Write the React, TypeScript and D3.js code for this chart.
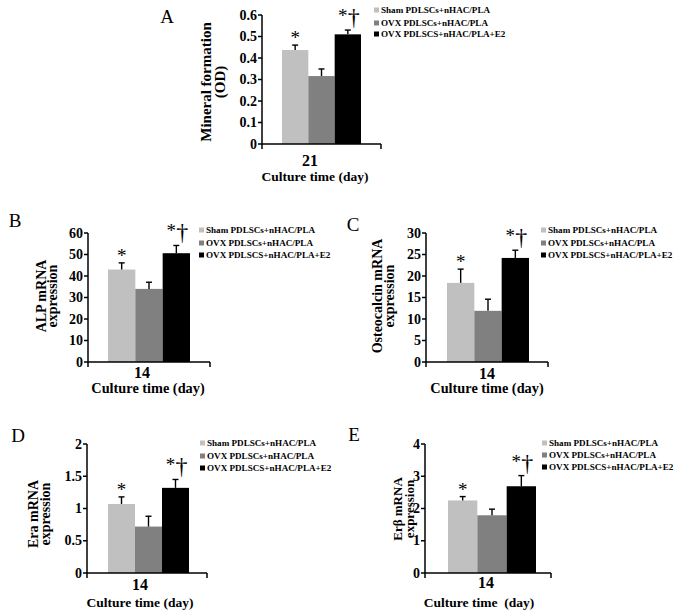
import React from "react";
import * as d3 from "d3";

// ---------- data ----------
const seriesNames = ["Sham PDLSCs+nHAC/PLA", "OVX PDLSCs+nHAC/PLA", "OVX PDLSCS+nHAC/PLA+E2"];
const seriesColors = ["#c0c0c0", "#808080", "#000000"];
const significance = ["*", "", "*†"];

const panelLetters = ["A", "B", "C", "D", "E"];
const categoryLabels = ["21", "14", "14", "14", "14"];
const xTitles = ["Culture time (day)", "Culture time (day)", "Culture time (day)", "Culture time (day)", "Culture time  (day)"];
const yTitles = [
  ["Mineral formation", "(OD)"],
  ["ALP mRNA", "expression"],
  ["Osteocalcin mRNA", "expression"],
  ["Era mRNA", "expression"],
  ["Erβ mRNA", "expression"],
];

const meanA = [0.437, 0.316, 0.51];
const errA = [0.023, 0.033, 0.02];
const meanB = [43.0, 34.0, 50.6];
const errB = [3.1, 3.1, 3.6];
const meanC = [18.4, 11.9, 24.2];
const errC = [3.2, 2.7, 1.8];
const meanD = [1.07, 0.72, 1.32];
const errD = [0.11, 0.16, 0.13];
const meanE = [2.25, 1.79, 2.69];
const errE = [0.12, 0.19, 0.33];

const ticksA = [0, 0.1, 0.2, 0.3, 0.4, 0.5, 0.6];
const ticksB = [0, 10, 20, 30, 40, 50, 60];
const ticksC = [0, 5, 10, 15, 20, 25, 30];
const ticksD = [0, 0.5, 1, 1.5, 2];
const ticksE = [0, 1, 2, 3, 4];

const means = [meanA, meanB, meanC, meanD, meanE];
const errs = [errA, errB, errC, errD, errE];
const ticks = [ticksA, ticksB, ticksC, ticksD, ticksE];

// ---------- layout ----------
type Layout = {
  axisX: number; axisEnd: number; top: number; bottom: number; bars: [number, number];
  catX: number; catY: number; xtX: number; xtY: number; xtFs: number; ytX: [number, number]; ytY: number; ytFs: number;
  letter: [number, number]; legX: number; legY: number[];
};
const layouts: Layout[] = [
  { axisX: 262, axisEnd: 381, top: 15, bottom: 144, bars: [282, 361], catX: 310, catY: 160, xtX: 315, xtY: 176, xtFs: 13.5, ytX: [211, 225], ytY: 82, ytFs: 15, letter: [167, 16], legX: 374, legY: [10, 23, 34] },
  { axisX: 88, axisEnd: 210, top: 233, bottom: 362, bars: [108, 190], catX: 142, catY: 372, xtX: 148, xtY: 388, xtFs: 14.3, ytX: [46, 57], ytY: 296, ytFs: 14, letter: [15, 220], legX: 199, legY: [230, 243, 255] },
  { axisX: 426, axisEnd: 548, top: 233, bottom: 362, bars: [447, 529], catX: 487, catY: 373, xtX: 487, xtY: 388, xtFs: 14.3, ytX: [382, 394], ytY: 296, ytFs: 14, letter: [353, 224], legX: 541, legY: [230, 243, 255] },
  { axisX: 87, axisEnd: 207, top: 444, bottom: 573, bars: [108, 189], catX: 140, catY: 584, xtX: 140, xtY: 602, xtFs: 13.5, ytX: [38, 50], ytY: 514, ytFs: 14, letter: [18, 435], legX: 200, legY: [443, 456, 468] },
  { axisX: 425, axisEnd: 551, top: 444, bottom: 573, bars: [448, 536], catX: 486, catY: 582, xtX: 479, xtY: 602, xtFs: 13.5, ytX: [402, 414], ytY: 509, ytFs: 13, letter: [354, 434], legX: 542, legY: [443, 455, 467] },
];

const FONT = "'Liberation Serif', 'Times New Roman', serif";

function Panel({ i }: { i: number }) {
  const L = layouts[i];
  const tk = ticks[i];
  const y = d3.scaleLinear().domain([0, tk[tk.length - 1]]).range([L.bottom, L.top]);
  const x = d3.scaleBand<string>().domain(seriesNames).range(L.bars).padding(0);
  const m = means[i];
  const e = errs[i];
  return (
    <g fontFamily={FONT} fill="#000">
      <text x={L.letter[0]} y={L.letter[1]} fontSize={19} textAnchor="middle" dominantBaseline="central">{panelLetters[i]}</text>
      {/* bars */}
      {seriesNames.map((s, k) => (
        <rect key={s} x={x(s)} y={y(m[k])} width={x.bandwidth()} height={y(0) - y(m[k])} fill={seriesColors[k]} />
      ))}
      {/* error bars */}
      {seriesNames.map((s, k) => {
        const cx = (x(s) as number) + x.bandwidth() / 2;
        const cy = y(m[k] + e[k]);
        return (
          <g key={"e" + s} stroke="#000" strokeWidth={1.4}>
            <line x1={cx} x2={cx} y1={y(m[k])} y2={cy} />
            <line x1={cx - 3} x2={cx + 3} y1={cy} y2={cy} />
          </g>
        );
      })}
      {/* significance marks */}
      {seriesNames.map((s, k) => {
        const cx = (x(s) as number) + x.bandwidth() / 2;
        const cy = y(m[k] + e[k]);
        const sig = significance[k];
        if (!sig) return null;
        if (sig === "*") {
          return <text key={"s" + s} x={cx} y={cy - 10 + 9} fontSize={19} textAnchor="middle" fill="#000">*</text>;
        }
        return (
          <g key={"s" + s} fill="#000">
            <text x={cx - 5} y={cy - 17 + 9} fontSize={19} textAnchor="middle">*</text>
            <text x={cx + 6} y={cy - 5} fontSize={24} textAnchor="middle">†</text>
          </g>
        );
      })}
      {/* axes */}
      <g stroke="#000" strokeWidth={1.5}>
        <line x1={L.axisX} x2={L.axisX} y1={L.top} y2={L.bottom + 5} />
        <line x1={L.axisX} x2={L.axisEnd} y1={L.bottom} y2={L.bottom} />
        <line x1={L.axisEnd} x2={L.axisEnd} y1={L.bottom} y2={L.bottom + 5} />
        {tk.map((t) => (
          <line key={t} x1={L.axisX - 4} x2={L.axisX} y1={y(t)} y2={y(t)} />
        ))}
      </g>
      {tk.map((t) => (
        <text key={"l" + t} x={L.axisX - 5} y={y(t)} fontSize={14} fontWeight="bold" textAnchor="end" dominantBaseline="central">{String(t)}</text>
      ))}
      <text x={L.catX} y={L.catY} fontSize={16} fontWeight="bold" textAnchor="middle" dominantBaseline="central">{categoryLabels[i]}</text>
      <text x={L.xtX} y={L.xtY} fontSize={L.xtFs} fontWeight="bold" textAnchor="middle" dominantBaseline="central" style={{ whiteSpace: "pre" }}>{xTitles[i]}</text>
      {yTitles[i].map((line, j) => (
        <text key={line} transform={`translate(${L.ytX[j]},${L.ytY}) rotate(-90)`} fontSize={L.ytFs} fontWeight="bold" textAnchor="middle">{line}</text>
      ))}
      {/* legend */}
      {seriesNames.map((s, k) => (
        <g key={"lg" + s}>
          <rect x={L.legX} y={L.legY[k] - 2.5} width={5} height={5} fill={seriesColors[k]} />
          <text x={L.legX + 7} y={L.legY[k]} fontSize={9.1} fontWeight="bold" dominantBaseline="central">{s}</text>
        </g>
      ))}
    </g>
  );
}

export default function App() {
  return (
    <svg width={677} height={615} style={{ position: "absolute", left: 0, top: 0, background: "#fff" }}>
      <rect width={677} height={615} fill="#fff" />
      {panelLetters.map((_, i) => (
        <Panel key={i} i={i} />
      ))}
    </svg>
  );
}
